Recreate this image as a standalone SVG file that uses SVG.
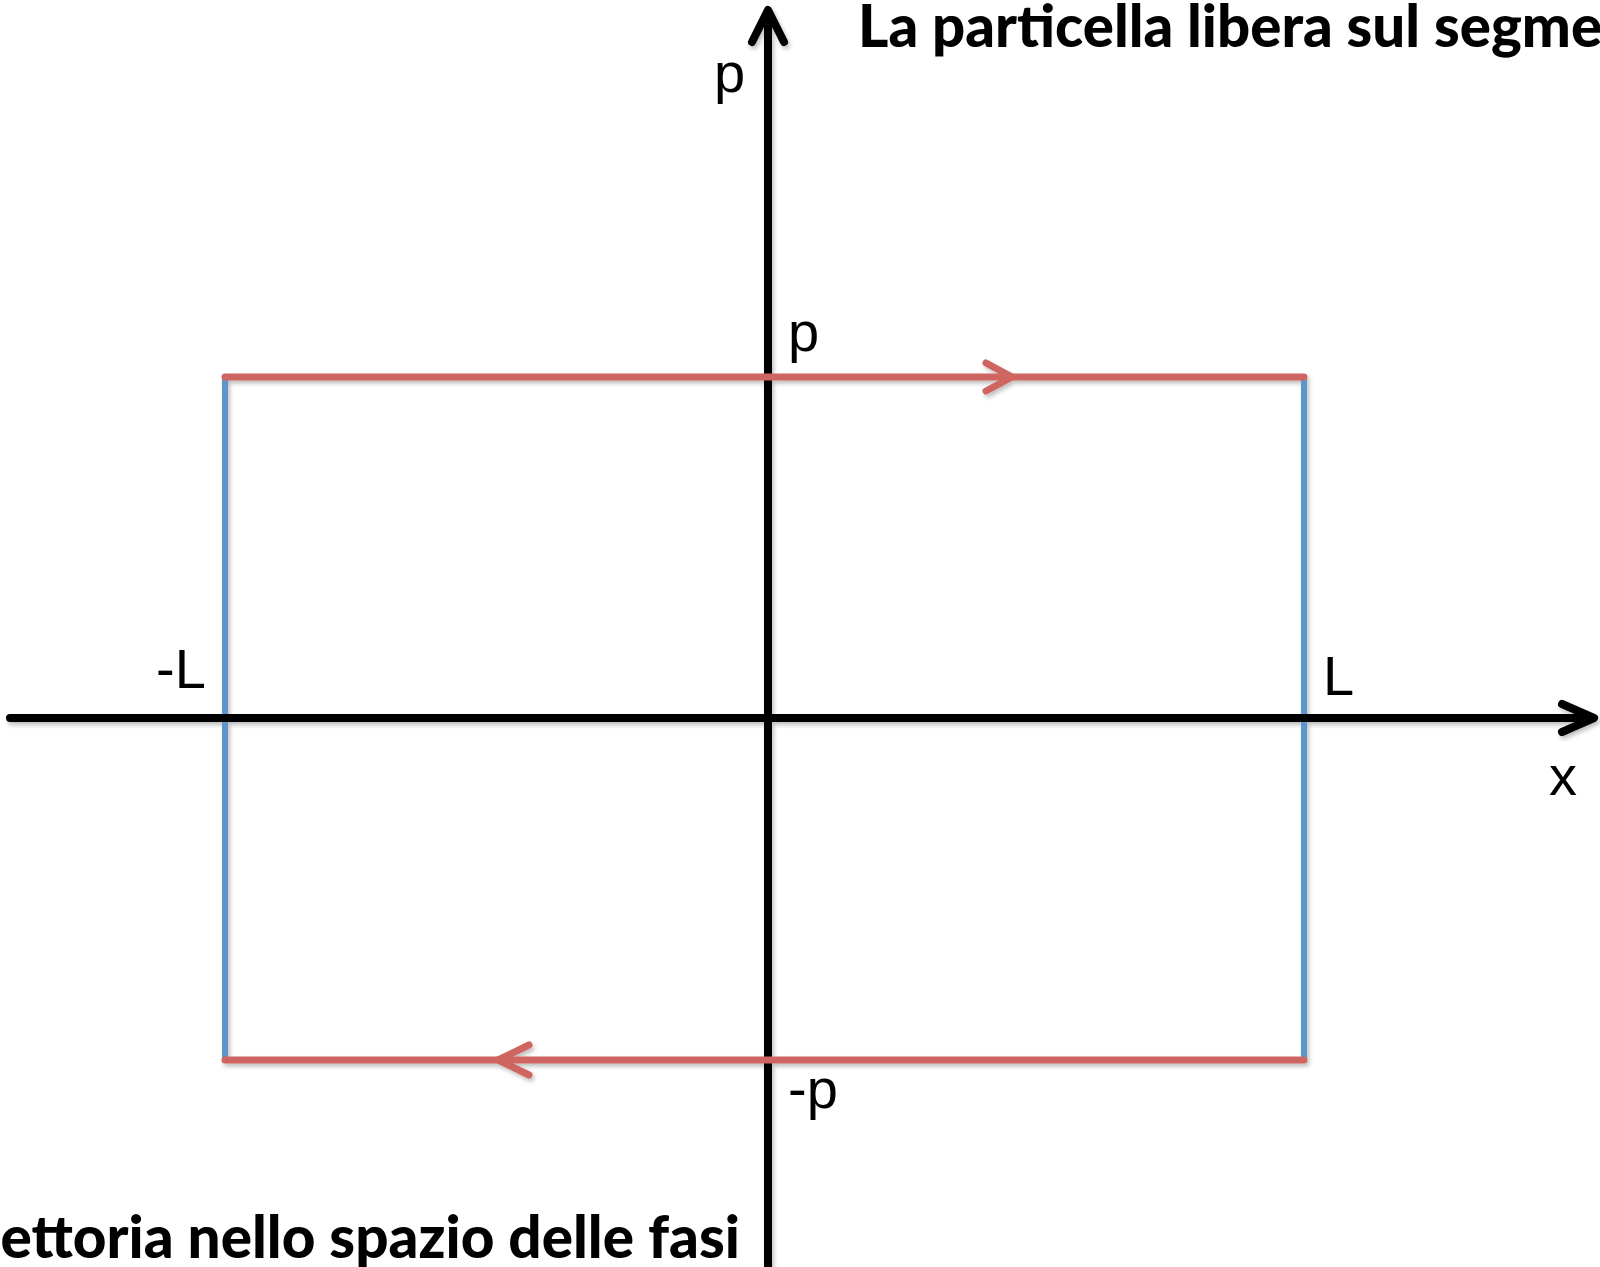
<svg xmlns="http://www.w3.org/2000/svg" width="1600" height="1267" viewBox="0 0 1600 1267">
<style>
.ax{stroke:#000;stroke-width:8;fill:none;stroke-linecap:round;stroke-linejoin:round}
.red{stroke:#cf6560;stroke-width:7;fill:none;stroke-linecap:round;stroke-linejoin:round}
.blue{stroke:#5d95cd;stroke-width:6;fill:none}
.lbl{font-family:"Liberation Sans",Arial,sans-serif;font-size:56px;fill:#000}
.ttl{font-family:Lato,"Open Sans",sans-serif;font-weight:900;font-size:59px;fill:#000}
</style>
<defs>
<filter id="sh" x="-5%" y="-5%" width="110%" height="110%">
<feDropShadow dx="2" dy="3" stdDeviation="2" flood-color="#000" flood-opacity="0.25"/>
</filter>
</defs>
<rect width="1600" height="1267" fill="#fff"/>
<g id="connectors" filter="url(#sh)">
<g id="trajectory-left"><line class="blue" x1="225" y1="377" x2="225" y2="1060"/></g>
<g id="trajectory-right"><line class="blue" x1="1304" y1="377" x2="1304" y2="1060"/></g>
<g id="x-axis">
<line class="ax" x1="10" y1="718" x2="1592" y2="718"/>
<polyline class="ax" points="1562,704 1594,718 1562,732"/>
</g>
<g id="p-axis">
<line class="ax" x1="768" y1="12" x2="768" y2="1270"/>
<polyline class="ax" points="752,42 768,10 784,42"/>
</g>
<g id="trajectory-top">
<line class="red" x1="225" y1="377" x2="1304" y2="377"/>
<polyline class="red" points="986,363 1012,377 986,391"/>
</g>
<g id="trajectory-bottom">
<line class="red" x1="225" y1="1060" x2="1304" y2="1060"/>
<polyline class="red" points="529,1045 498,1060 529,1075"/>
</g>
</g>
<g id="labels">
<text class="lbl" x="714" y="92">p</text>
<text class="lbl" x="788" y="351">p</text>
<text class="lbl" x="788" y="1108">-p</text>
<text class="lbl" x="156" y="688">-L</text>
<text class="lbl" x="1323" y="695">L</text>
<text class="lbl" x="1549" y="795">x</text>
</g>
<g id="titles">
<text class="ttl" x="858" y="47" textLength="832" lengthAdjust="spacingAndGlyphs">La particella libera sul segmento</text>
<text class="ttl" x="-96" y="1258" textLength="836" lengthAdjust="spacingAndGlyphs">Traiettoria nello spazio delle fasi</text>
</g>
</svg>
